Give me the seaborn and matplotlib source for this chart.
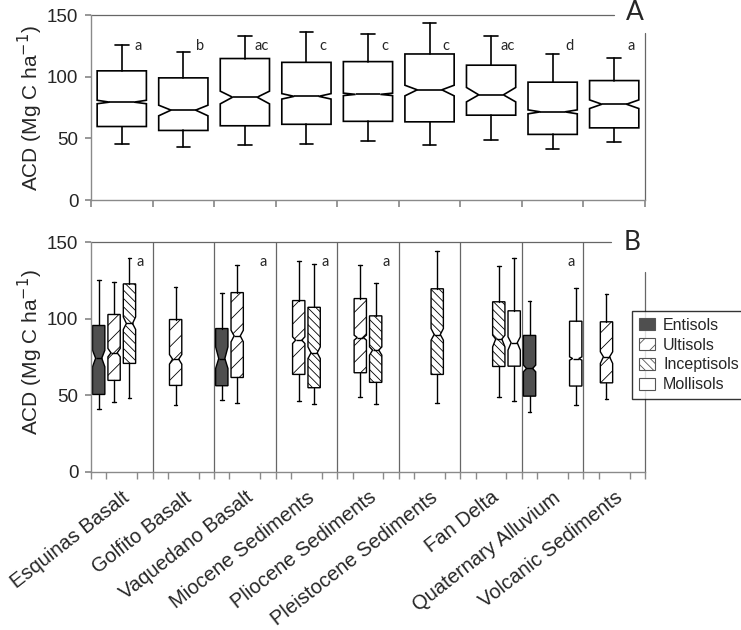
import numpy as np
import matplotlib
matplotlib.use("Agg")
import matplotlib.pyplot as plt
from matplotlib.patches import Patch
from matplotlib.transforms import ScaledTranslation
import seaborn as sns

geology = ["Esquinas Basalt", "Golfito Basalt", "Vaquedano Basalt", "Miocene Sediments",
           "Pliocene Sediments", "Pleistocene Sediments", "Fan Delta",
           "Quaternary Alluvium", "Volcanic Sediments"]

# panel A: one notched box per geology
a_low = [45.1, 43.3, 44.8, 45.2, 47.9, 44.6, 48.4, 41.4, 47.3]
a_q1 = [59.7, 56.5, 60.3, 61.5, 63.9, 63.5, 68.9, 53.3, 58.6]
a_med = [79.5, 73.0, 83.5, 84.2, 85.8, 89.5, 85.4, 71.6, 77.8]
a_q3 = [104.9, 99.2, 114.9, 111.8, 112.4, 118.6, 109.5, 95.7, 97.0]
a_high = [126.2, 120.3, 133.2, 136.7, 134.8, 144.0, 133.2, 118.4, 115.7]
a_ci_lo = [78.2, 68.4, 78.1, 82.0, 84.8, 84.6, 79.7, 70.0, 74.3]
a_ci_hi = [81.0, 77.0, 88.4, 86.4, 86.8, 93.2, 91.4, 73.2, 81.3]
a_letters = ["a", "b", "ac", "c", "c", "c", "ac", "d", "a"]

# panel B: boxes split by soil order
soils = ["Entisols", "Ultisols", "Inceptisols", "Mollisols"]
b_geo = [0, 0, 0, 1, 2, 2, 3, 3, 4, 4, 5, 6, 6, 7, 7, 8]
b_soil = ["Entisols", "Ultisols", "Inceptisols", "Ultisols", "Entisols", "Ultisols",
          "Ultisols", "Inceptisols", "Ultisols", "Inceptisols", "Inceptisols",
          "Inceptisols", "Mollisols", "Entisols", "Mollisols", "Ultisols"]
b_low = [41.0, 45.5, 47.9, 43.6, 46.8, 45.1, 46.4, 44.0, 48.8, 44.4, 44.9, 48.8, 46.4, 39.2, 43.6, 47.7]
b_q1 = [50.5, 59.7, 70.8, 56.4, 56.2, 61.6, 63.6, 54.9, 64.7, 58.4, 63.6, 68.8, 69.0, 49.4, 56.0, 58.1]
b_med = [74.2, 77.7, 96.9, 73.6, 74.0, 88.8, 86.0, 77.7, 87.7, 79.5, 89.7, 86.7, 84.3, 67.5, 74.0, 75.1]
b_q3 = [95.6, 102.8, 122.8, 99.5, 93.6, 117.1, 111.9, 107.5, 113.2, 101.9, 119.6, 111.1, 105.2, 89.1, 98.4, 98.0]
b_high = [125.6, 124.1, 140.0, 120.8, 116.9, 135.0, 137.6, 135.9, 135.4, 123.4, 144.4, 134.4, 140.0, 111.5, 120.0, 116.3]
b_ci_lo = [68.6, 75.1, 93.0, 70.3, 67.5, 84.9, 83.8, 74.0, 86.0, 76.2, 86.0, 81.6, 79.5, 65.3, 72.9, 70.8]
b_ci_hi = [79.4, 80.6, 101.2, 76.6, 81.6, 92.5, 88.2, 81.6, 89.3, 81.6, 93.6, 89.3, 88.2, 69.7, 75.1, 78.4]
b_letter_geo = [0, 2, 3, 4, 7]
b_letters = ["a", "a", "a", "a", "a"]

sns.set_theme(style="ticks")
plt.rcParams['font.family'] = ['Liberation Sans', 'DejaVu Sans']
plt.rcParams['hatch.linewidth'] = 0.6

soil_fill = {"Entisols": "#4f4f4f", "Ultisols": "white", "Inceptisols": "white", "Mollisols": "white"}
soil_hatch = {"Entisols": None, "Ultisols": "//", "Inceptisols": "\\\\\\\\", "Mollisols": None}
soil_off = {"Entisols": -0.375, "Ultisols": -0.125, "Inceptisols": 0.125, "Mollisols": 0.375}
grey = "#8a8a8a"


def make_stats(lo, q1, med, q3, hi, cilo, cihi):
    return [dict(whislo=a, q1=b, med=c, q3=d, whishi=e, cilo=f, cihi=g, fliers=[])
            for a, b, c, d, e, f, g in zip(lo, q1, med, q3, hi, cilo, cihi)]


def box_kw(lw):
    return dict(shownotches=True, patch_artist=True, showfliers=False, manage_ticks=False,
                boxprops=dict(facecolor="white", edgecolor="black", linewidth=lw),
                medianprops=dict(color="black", linewidth=lw),
                whiskerprops=dict(color="black", linewidth=lw),
                capprops=dict(color="black", linewidth=lw))


def frame(ax, top_end, right_start):
    for s in ["top", "right"]:
        ax.spines[s].set_visible(False)
    for s in ["left", "bottom"]:
        ax.spines[s].set_color(grey)
        ax.spines[s].set_linewidth(1.0)
    ax.plot([-0.5, top_end], [150, 150], color="#666666", lw=0.9, clip_on=False)
    ax.plot([8.5, 8.5], [0, right_start], color="#666666", lw=0.9, clip_on=False)
    ax.set_xlim(-0.5, 8.5)
    ax.set_ylim(0, 150)
    ax.set_yticks([0, 50, 100, 150])
    ax.tick_params(axis="y", labelsize=13.5, length=4, color=grey, pad=5)
    ax.set_ylabel("ACD (Mg C ha$^{-1}$)", fontsize=15)


fig = plt.figure(figsize=(7.41, 6.30), dpi=100)
axA = fig.add_axes([0.1228, 0.6825, 0.7476, 0.2932])
axB = fig.add_axes([0.1228, 0.2513, 0.7476, 0.3641])

# panel A
pos = np.arange(len(geology))
axA.bxp(make_stats(a_low, a_q1, a_med, a_q3, a_high, a_ci_lo, a_ci_hi),
        positions=pos, widths=0.8, capwidths=0.22, **box_kw(1.2))
for i, t in enumerate(a_letters):
    axA.text(i + 0.27, 125, t, ha="center", va="center", fontsize=10.5, family="Lato")
frame(axA, 7.99, 135.4)
axA.set_xticks(np.arange(-0.5, 9, 1))
axA.set_xticklabels([])
axA.tick_params(axis="x", length=5, color=grey)
axA.yaxis.set_label_coords(-0.083, 0.5)

# panel B
axB.vlines(np.arange(0.5, 8.5, 1), 0, 150, color="#666666", lw=0.9, zorder=1)
b_pos = [g + soil_off[s] for g, s in zip(b_geo, b_soil)]
art = axB.bxp(make_stats(b_low, b_q1, b_med, b_q3, b_high, b_ci_lo, b_ci_hi),
              positions=b_pos, widths=0.2, capwidths=0.06, **box_kw(1.0))
for patch, s in zip(art["boxes"], b_soil):
    patch.set_facecolor(soil_fill[s])
    if soil_hatch[s]:
        patch.set_hatch(soil_hatch[s])
        if hasattr(patch, "set_hatchcolor"):
            patch.set_hatchcolor("#555555")
for g, t in zip(b_letter_geo, b_letters):
    axB.text(g + 0.3, 137, t, ha="center", va="center", fontsize=10.5, family="Lato")
frame(axB, 7.95, 130.6)
axB.set_xticks(pos)
axB.set_xticklabels([])
axB.set_xticks(np.arange(-0.5, 8.51, 0.25), minor=True)
axB.tick_params(axis="x", which="major", length=0)
axB.tick_params(axis="x", which="minor", length=5, color=grey)
lab_shift = ScaledTranslation(0.09, -0.28, fig.dpi_scale_trans)
for i, name in enumerate(geology):
    axB.text(i, 0, name, transform=axB.get_xaxis_transform() + lab_shift,
             rotation=38, ha="right", va="baseline", rotation_mode="anchor", fontsize=14.5)
axB.yaxis.set_label_coords(-0.083, 0.52)

fig.text(634.5 / 741, 1 - 12.2 / 630, "A", ha="center", va="center", fontsize=19, family="Lato")
fig.text(632.5 / 741, 1 - 242 / 630, "B", ha="center", va="center", fontsize=19, family="Lato")

handles = [Patch(facecolor=soil_fill[s], edgecolor="#555555", hatch=soil_hatch[s], lw=0.8)
           for s in soils]
leg = fig.legend(handles, soils, loc="upper left", bbox_to_anchor=(632 / 741, 1 - 310.7 / 630),
                 borderaxespad=0, fontsize=11.5, handlelength=1.0, handleheight=0.75,
                 labelspacing=0.3, handletextpad=0.5, borderpad=0.45, fancybox=False)
leg.get_frame().set_edgecolor("black")
leg.get_frame().set_linewidth(1.0)

fig.savefig("out.png", dpi=100)
